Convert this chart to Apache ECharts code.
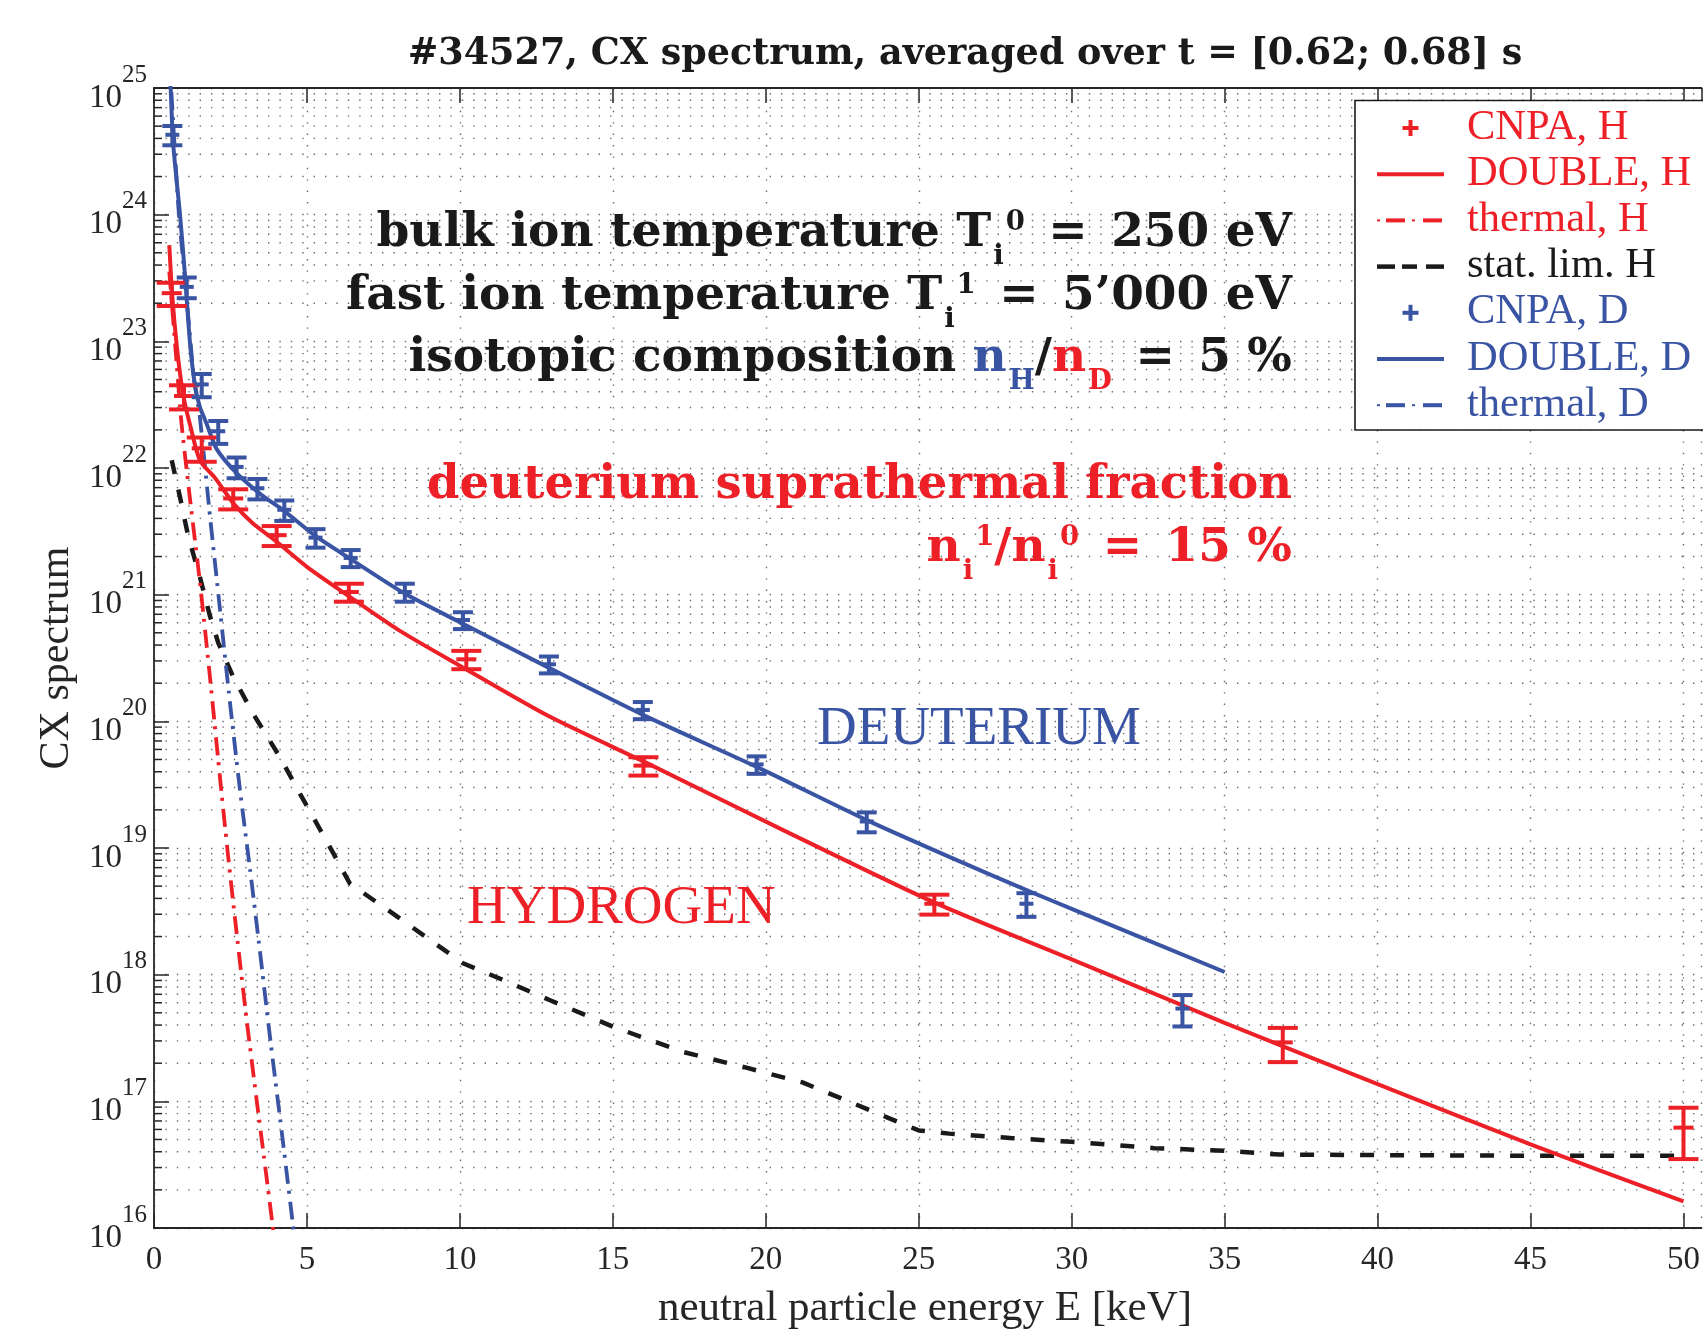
<!DOCTYPE html>
<html>
<head>
<meta charset="utf-8">
<script src="https://cdn.jsdelivr.net/npm/echarts@6/dist/echarts.min.js"></script>
<style>
  html, body { margin: 0; padding: 0; background: #ffffff; }
  #chart { width: 1703px; height: 1329px; }
</style>
</head>
<body>
<div id="chart"></div>
<script>
// ---------------- data ----------------
// x axis ticks (keV)
const xTicks = [0, 5, 10, 15, 20, 25, 30, 35, 40, 45, 50];
// y axis decades (exponents of 10)
const yDecades = [16, 17, 18, 19, 20, 21, 22, 23, 24, 25];

// CNPA measurement, hydrogen: energy [keV], spectrum, 1-sigma error
const cnpaH_E = [0.58, 0.98, 1.56, 2.59, 4.01, 6.37, 10.21, 16.0, 25.51, 36.9, 50.0];
const cnpaH_V = [2.4e23, 3.7e22, 1.43e22, 5.75e21, 2.95e21, 1.05e21, 3.09e20, 4.47e19, 3.63e18, 2.92e17, 6.2e16];
const cnpaH_S = [0.5e23, 0.8e22, 0.31e22, 1.04e21, 0.53e21, 0.17e21, 0.51e20, 0.74e19, 0.65e18, 0.88e17, 2.7e16];

// CNPA measurement, deuterium
const cnpaD_E = [0.60, 1.07, 1.56, 2.10, 2.70, 3.38, 4.26, 5.28, 6.43, 8.20, 10.10, 12.91, 15.98, 19.70, 23.30, 28.52, 33.62];
const cnpaD_V = [4.27e24, 2.69e23, 4.57e22, 1.95e22, 1.02e22, 6.92e21, 4.68e21, 2.82e21, 1.95e21, 1.05e21, 6.31e20, 2.82e20, 1.23e20, 4.57e19, 1.62e19, 3.63e18, 5.4e17];
const cnpaD_S = [0.74e24, 0.5e23, 0.95e22, 0.4e22, 0.19e22, 1.27e21, 0.86e21, 0.47e21, 0.30e21, 0.17e21, 0.96e20, 0.43e20, 0.19e20, 0.72e19, 0.29e19, 0.77e18, 1.5e17];

// DOUBLE (bulk + fast) model, hydrogen
const doubleH_E = [0.5, 0.6, 0.75, 0.9, 1.0, 1.2, 1.5, 2.0, 2.6, 3.2, 4.0, 5.0, 6.3, 8.0, 10.0, 12.9, 16.2, 20.5, 25.5, 30.0, 35.0, 40.7, 45.0, 50.0];
const doubleH_V = [5.75e23, 2.24e23, 8.91e22, 4.57e22, 3.31e22, 2.09e22, 1.15e22, 8.32e21, 5.25e21, 3.72e21, 2.63e21, 1.66e21, 1.0e21, 5.25e20, 2.75e20, 1.10e20, 4.57e19, 1.41e19, 3.72e18, 1.32e18, 4.17e17, 1.17e17, 4.57e16, 1.62e16];

// DOUBLE model, deuterium
const doubleD_E = [0.5, 0.545, 0.63, 0.85, 1.01, 1.18, 1.34, 1.5, 1.72, 2.05, 2.7, 3.5, 4.26, 5.3, 6.43, 8.2, 10.1, 12.93, 16.0, 19.7, 23.3, 26.0, 28.6, 30.0, 35.0];
const doubleD_V = [2.0e25, 1.0e25, 3.55e24, 1.0e24, 3.39e23, 9.5e22, 4.47e22, 3.02e22, 2.24e22, 1.41e22, 9.12e21, 6.17e21, 4.57e21, 2.88e21, 1.91e21, 1.02e21, 5.89e20, 2.63e20, 1.12e20, 4.37e19, 1.66e19, 8.51e18, 4.57e18, 3.31e18, 1.05e18];

// thermal (bulk only) model, hydrogen
const thermalH_E = [0.5, 0.7, 0.9, 1.18, 1.5, 1.85, 2.18, 2.43, 2.70, 3.03, 3.35, 3.68, 3.95];
const thermalH_V = [3.55e23, 8.91e22, 2.24e22, 5.62e21, 1.26e21, 2.0e20, 3.16e19, 8.32e18, 2.14e18, 4.37e17, 1.05e17, 2.51e16, 7.59e15];

// thermal model, deuterium
const thermalD_E = [0.5, 0.8, 1.07, 1.3, 1.5, 1.83, 2.15, 2.45, 2.81, 3.14, 3.46, 3.79, 4.17, 4.55, 4.62];
const thermalD_V = [1.78e25, 1.12e24, 2.14e23, 5.25e22, 2.51e22, 4.17e21, 7.94e20, 1.66e20, 2.88e19, 6.76e18, 1.55e18, 3.24e17, 5.89e16, 1.02e16, 7.41e15];

// statistical detection limit, hydrogen
const statH_E = [0.58, 0.85, 1.12, 1.5, 1.83, 2.1, 2.59, 3.24, 4.11, 4.77, 5.86, 6.40, 8.0, 10.1, 11.3, 12.93, 15.0, 17.3, 19.3, 21.2, 22.9, 24.0, 25.0, 26.0, 28.0, 30.0, 32.7, 35.0, 36.8, 40.0, 45.0, 50.0];
const statH_V = [1.15e22, 5.89e21, 2.88e21, 1.38e21, 6.76e20, 4.17e20, 2.24e20, 1.15e20, 5.25e19, 2.69e19, 9.12e18, 5.25e18, 2.82e18, 1.23e18, 9.33e17, 6.31e17, 3.89e17, 2.45e17, 1.86e17, 1.41e17, 9.55e16, 7.41e16, 5.89e16, 5.56e16, 5.13e16, 4.79e16, 4.27e16, 4.07e16, 3.80e16, 3.76e16, 3.72e16, 3.72e16];

// legend entries
const legendNames = ['CNPA, H', 'DOUBLE, H', 'thermal, H', 'stat. lim. H', 'CNPA, D', 'DOUBLE, D', 'thermal, D'];

// ---------------- styling ----------------
const RED = '#ED2027';
const BLUE = '#3A54A4';
const INK = '#1A1A1A';
const AXIS = '#262626';
const GRID_DOT = '#6a6a6a';
const SERIF = 'Liberation Serif';
const BOLD_SERIF = 'DejaVu Serif';

// plot frame: left edge at 154 px, 30.62 px per keV, right edge runs off the page
const PLOT_LEFT = 154, PX_PER_KEV = 30.62, PAGE_W = 1703;
const X_MAX = (PAGE_W - PLOT_LEFT) / PX_PER_KEV;

const zip = (a, b) => a.map((v, i) => [v, b[i]]);
const zip3 = (a, b, c) => a.map((v, i) => [v, b[i], c[i]]);

// minor log grid values: 2..9 x 10^n
const minorGrid = [];
for (let n = yDecades[0]; n < yDecades[yDecades.length - 1]; n++) {
  for (let m = 2; m <= 9; m++) minorGrid.push(m * Math.pow(10, n));
}

// ---------------- text helpers ----------------
const mctx = document.createElement('canvas').getContext('2d');
function fontOf(size, weight, family) { return weight + ' ' + size + 'px "' + family + '"'; }
function midOffset(size, weight, family) {
  mctx.font = fontOf(size, weight, family);
  mctx.textBaseline = 'alphabetic';
  const m = mctx.measureText('Hg');
  if (m.fontBoundingBoxAscent !== undefined) return (m.fontBoundingBoxAscent - m.fontBoundingBoxDescent) / 2;
  return size * 0.34;
}
function widthOf(text, size, weight, family) {
  mctx.font = fontOf(size, weight, family);
  return mctx.measureText(text).width;
}
// a text element positioned by its alphabetic baseline
function baseText(text, x, baseline, size, color, weight, family, align, extra) {
  const el = {
    type: 'text', x: x, y: baseline - midOffset(size, weight, family), z: 100, silent: true,
    style: { text: text, fontSize: size, fontWeight: weight, fontFamily: family, fill: color,
             textAlign: align || 'left', textVerticalAlign: 'middle' }
  };
  return Object.assign(el, extra || {});
}
// one line with sub/superscripts, right-aligned at xRight
function mathLine(tokens, xRight, baseline, o) {
  let w = 0;
  const placed = tokens.map(tk => {
    const size = tk.k === 'n' ? o.size : o.small;
    const tw = widthOf(tk.t, size, o.weight, o.family);
    const p = { t: tk.t, c: tk.c, size: size, x: w + (tk.k === 'n' ? 0 : o.gap),
                dy: tk.k === 'sub' ? o.subShift : (tk.k === 'sup' ? -o.supShift : 0) };
    w += tw + (tk.k === 'n' ? 0 : o.gap);
    return p;
  });
  const x0 = xRight - w;
  return placed.map(p => baseText(p.t, x0 + p.x, baseline + p.dy, p.size, p.c, o.weight, o.family, 'left'));
}

// ---------------- renderers ----------------
function errorBars(color, capW, markW) {
  return function (params, api) {
    const e = api.value(0), v = api.value(1), s = api.value(2);
    const top = api.coord([e, v + s]);
    const bot = api.coord([e, v - s]);
    const mid = api.coord([e, v]);
    const st = { stroke: color, lineWidth: 4, lineCap: 'butt' };
    const seg = (x1, y1, x2, y2) => ({ type: 'line', shape: { x1, y1, x2, y2 }, style: st });
    return {
      type: 'group',
      children: [
        seg(mid[0], top[1], mid[0], bot[1]),
        seg(mid[0] - capW / 2, top[1], mid[0] + capW / 2, top[1]),
        seg(mid[0] - capW / 2, bot[1], mid[0] + capW / 2, bot[1]),
        seg(mid[0] - markW / 2, mid[1], mid[0] + markW / 2, mid[1])
      ]
    };
  };
}
function minorGridRender(params, api) {
  const v = api.value(1);
  const a = api.coord([0, v]);
  const b = api.coord([X_MAX, v]);
  return {
    type: 'group',
    children: [
      { type: 'line', shape: { x1: a[0], y1: a[1], x2: b[0], y2: b[1] },
        style: { stroke: GRID_DOT, lineWidth: 1.4, lineDash: [1.4, 10] } },
      { type: 'line', shape: { x1: a[0], y1: a[1], x2: a[0] + 8, y2: a[1] },
        style: { stroke: AXIS, lineWidth: 1.5 } }
    ]
  };
}

// ---------------- annotations ----------------
const annot = { size: 47, small: 27.5, weight: 'bold', family: BOLD_SERIF, subShift: 17, supShift: 17, gap: 2 };
const annotPlain = Object.assign({}, annot, { size: 46.5 });
const EQ = '\u2002=\u2002';
const TX_RIGHT = 1292;
const graphics = [];

graphics.push(baseText('#34527, CX spectrum, averaged over t = [0.62; 0.68] s', 965, 67, 36.5, INK, 'bold', BOLD_SERIF, 'center'));

graphics.push(...mathLine([
  { t: 'bulk ion temperature T', c: INK, k: 'n' }, { t: 'i', c: INK, k: 'sub' }, { t: '0', c: INK, k: 'sup' },
  { t: EQ + '250 eV', c: INK, k: 'n' }], TX_RIGHT, 250, annot));
graphics.push(...mathLine([
  { t: 'fast ion temperature T', c: INK, k: 'n' }, { t: 'i', c: INK, k: 'sub' }, { t: '1', c: INK, k: 'sup' },
  { t: EQ + '5\u2019000 eV', c: INK, k: 'n' }], TX_RIGHT, 313, annot));
graphics.push(...mathLine([
  { t: 'isotopic composition ', c: INK, k: 'n' }, { t: 'n', c: BLUE, k: 'n' }, { t: 'H', c: BLUE, k: 'sub' },
  { t: '/', c: INK, k: 'n' }, { t: 'n', c: RED, k: 'n' }, { t: 'D', c: RED, k: 'sub' },
  { t: EQ + '5 %', c: INK, k: 'n' }], TX_RIGHT, 375, annot));
graphics.push(...mathLine([{ t: 'deuterium suprathermal fraction', c: RED, k: 'n' }], TX_RIGHT, 502, annotPlain));
graphics.push(...mathLine([
  { t: 'n', c: RED, k: 'n' }, { t: 'i', c: RED, k: 'sub' }, { t: '1', c: RED, k: 'sup' },
  { t: '/n', c: RED, k: 'n' }, { t: 'i', c: RED, k: 'sub' }, { t: '0', c: RED, k: 'sup' },
  { t: EQ + '15 %', c: RED, k: 'n' }], TX_RIGHT, 565, annot));

graphics.push(baseText('DEUTERIUM', 817, 748, 55, BLUE, 'normal', SERIF, 'left'));
graphics.push(baseText('HYDROGEN', 467, 927, 55, RED, 'normal', SERIF, 'left'));

// axis titles
graphics.push(baseText('neutral particle energy E [keV]', 925, 1323, 43, AXIS, 'normal', SERIF, 'center'));
graphics.push({
  type: 'text', x: 71 - midOffset(42, 'normal', SERIF), y: 658, rotation: Math.PI / 2, z: 100, silent: true,
  style: { text: 'CX spectrum', fontSize: 42, fontFamily: SERIF, fill: AXIS, textAlign: 'center', textVerticalAlign: 'middle' }
});

// legend box
const LG = { x: 1355, y: 100.5, w: 420, h: 329.5, x1: 1377, x2: 1444, tx: 1467, cy0: 128, dy: 46.2 };
graphics.push({ type: 'rect', z: 90, silent: true, shape: { x: LG.x, y: LG.y, width: LG.w, height: LG.h },
  style: { fill: '#ffffff', stroke: INK, lineWidth: 1.6 } });
const legendKinds = ['plus', 'solid', 'dashdot', 'dash', 'plus', 'solid', 'dashdot'];
const legendColors = [RED, RED, RED, INK, BLUE, BLUE, BLUE];
legendNames.forEach((name, i) => {
  const cy = LG.cy0 + i * LG.dy;
  const col = legendColors[i];
  const ln = (a, b, w) => ({ type: 'line', z: 95, silent: true, shape: { x1: a, y1: cy, x2: b, y2: cy },
    style: { stroke: col, lineWidth: w } });
  const kind = legendKinds[i];
  if (kind === 'plus') {
    const cx = (LG.x1 + LG.x2) / 2;
    graphics.push(ln(cx - 8, cx + 8, 4));
    graphics.push({ type: 'line', z: 95, silent: true, shape: { x1: cx, y1: cy - 8, x2: cx, y2: cy + 8 },
      style: { stroke: col, lineWidth: 4 } });
  } else if (kind === 'solid') {
    graphics.push(ln(LG.x1, LG.x2, 4));
  } else if (kind === 'dashdot') {
    graphics.push(ln(LG.x1, LG.x1 + 3, 2));
    graphics.push(ln(LG.x1 + 9, LG.x1 + 28, 4));
    graphics.push(ln(LG.x1 + 35, LG.x1 + 38, 2));
    graphics.push(ln(LG.x1 + 46, LG.x2 - 2, 4));
  } else {
    graphics.push(ln(LG.x1, LG.x1 + 18, 4.5));
    graphics.push(ln(LG.x1 + 25, LG.x1 + 40, 4.5));
    graphics.push(ln(LG.x1 + 49, LG.x2, 4.5));
  }
  graphics.push(Object.assign(baseText(name, LG.tx, cy + 14, 42.5, col, 'normal', SERIF, 'left'), { z: 96 }));
});

// ---------------- chart ----------------
const chart = echarts.init(document.getElementById('chart'), null, { renderer: 'canvas' });
const axisTextStyle = { fontFamily: SERIF, color: AXIS };

chart.setOption({
  animation: false,
  backgroundColor: '#ffffff',
  grid: { left: PLOT_LEFT, top: 88, width: PAGE_W - PLOT_LEFT, height: 1140, containLabel: false },
  xAxis: [
    {
      type: 'value', min: 0, max: X_MAX, interval: 5, position: 'bottom',
      axisLine: { show: true, onZero: false, lineStyle: { color: AXIS, width: 1.8 } },
      axisTick: { show: true, inside: true, length: 15, lineStyle: { color: AXIS, width: 1.5 } },
      axisLabel: Object.assign({ fontSize: 33, margin: 16, showMaxLabel: false,
        formatter: v => (xTicks.indexOf(v) >= 0 ? String(v) : '') }, axisTextStyle),
      splitLine: { show: true, lineStyle: { color: GRID_DOT, width: 1.4, type: [1.4, 10] } }
    },
    {
      type: 'value', min: 0, max: X_MAX, interval: 5, position: 'top',
      axisLine: { show: true, onZero: false, lineStyle: { color: AXIS, width: 1.8 } },
      axisTick: { show: true, inside: true, length: 15, lineStyle: { color: AXIS, width: 1.5 } },
      axisLabel: { show: false }, splitLine: { show: false }
    }
  ],
  yAxis: {
    type: 'log', logBase: 10, min: 1e16, max: 1e25, splitNumber: 9,
    axisLine: { show: true, onZero: false, lineStyle: { color: AXIS, width: 1.8 } },
    axisTick: { show: true, inside: true, length: 15, lineStyle: { color: AXIS, width: 1.5 } },
    axisLabel: {
      margin: 7,
      padding: [20, 0, 0, 0],
      formatter: v => '{b|10}{e|' + Math.round(Math.log10(v)) + '}',
      rich: {
        b: { fontSize: 33, fontFamily: SERIF, color: AXIS, lineHeight: 33, verticalAlign: 'bottom' },
        e: { fontSize: 25, fontFamily: SERIF, color: AXIS, lineHeight: 25, verticalAlign: 'bottom', padding: [0, 0, 27, 0] }
      }
    },
    splitLine: { show: true, lineStyle: { color: GRID_DOT, width: 1.4, type: [1.4, 10] } },
    minorTick: { show: false }, minorSplitLine: { show: false }
  },
  series: [
    { name: 'minor grid', type: 'custom', renderItem: minorGridRender, data: minorGrid.map(v => [0, v]),
      silent: true, z: 1, clip: false, encode: { x: 0, y: 1 } },
    { name: 'stat. lim. H', type: 'line', data: zip(statH_E, statH_V), showSymbol: false, symbol: 'none',
      lineStyle: { color: INK, width: 4.5, type: [14, 16] }, z: 3 },
    { name: 'thermal, H', type: 'line', data: zip(thermalH_E, thermalH_V), showSymbol: false, symbol: 'none',
      smooth: 0.2, lineStyle: { color: RED, width: 3.8, type: [18, 7, 3, 8] }, z: 3 },
    { name: 'thermal, D', type: 'line', data: zip(thermalD_E, thermalD_V), showSymbol: false, symbol: 'none',
      smooth: 0.2, lineStyle: { color: BLUE, width: 3.8, type: [18, 7, 3, 8] }, z: 3 },
    { name: 'DOUBLE, H', type: 'line', data: zip(doubleH_E, doubleH_V), showSymbol: false, symbol: 'none',
      smooth: 0.25, lineStyle: { color: RED, width: 4 }, z: 4 },
    { name: 'DOUBLE, D', type: 'line', data: zip(doubleD_E, doubleD_V), showSymbol: false, symbol: 'none',
      smooth: 0.25, lineStyle: { color: BLUE, width: 4 }, z: 4 },
    { name: 'CNPA, H', type: 'custom', renderItem: errorBars(RED, 30, 20), data: zip3(cnpaH_E, cnpaH_V, cnpaH_S),
      encode: { x: 0, y: 1 }, z: 5, clip: false },
    { name: 'CNPA, D', type: 'custom', renderItem: errorBars(BLUE, 20, 14), data: zip3(cnpaD_E, cnpaD_V, cnpaD_S),
      encode: { x: 0, y: 1 }, z: 5, clip: false }
  ],
  graphic: graphics
});
</script>
</body>
</html>
